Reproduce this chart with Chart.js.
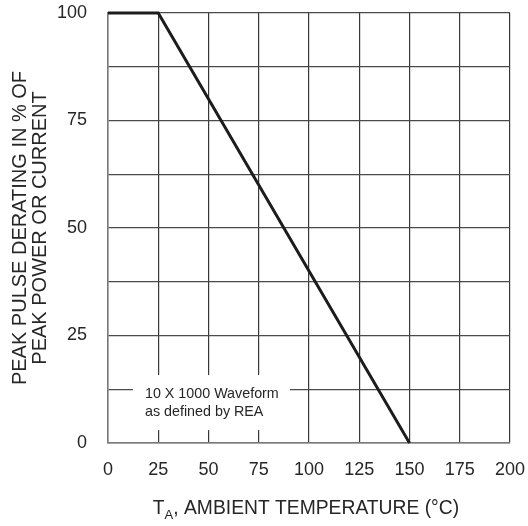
<!DOCTYPE html>
<html>
<head>
<meta charset="utf-8">
<script src="https://cdn.jsdelivr.net/npm/chart.js@4"></script>
<style>
  html, body { margin: 0; padding: 0; background: #fff; }
  #wrap { width: 528px; height: 526px; }
</style>
</head>
<body>
<div id="wrap"><canvas id="deratingChart"></canvas></div>
<script>
// curve
const ambientTemp = [0, 25, 150];
const deratingPct = [100, 100, 0];

// axis settings
const xTicks = [0, 25, 50, 75, 100, 125, 150, 175, 200];
const yLabelled = [0, 25, 50, 75, 100];
const yTitle = ["PEAK PULSE DERATING IN % OF", "PEAK POWER OR CURRENT"];
const noteLines = ["10 X 1000 Waveform", "as defined by REA"];

const FONT = "'Liberation Sans', Arial, sans-serif";
const TEXT = "#262626";

// white box with the waveform note, drawn over the grid
const notePlugin = {
    id: "note",
    beforeDatasetsDraw(chart) {
        const ctx = chart.ctx;
        const x = chart.scales.x;
        const y = chart.scales.y;
        const left = x.getPixelForValue(12.4);
        const right = x.getPixelForValue(90.5);
        const top = y.getPixelForValue(15.8);
        const bottom = y.getPixelForValue(3.0);
        ctx.save();
        ctx.fillStyle = "#fff";
        ctx.fillRect(left, top, right - left, bottom - top);
        ctx.fillStyle = TEXT;
        ctx.font = "14.3px " + FONT;
        ctx.textAlign = "left";
        ctx.textBaseline = "middle";
        ctx.fillText(noteLines[0], x.getPixelForValue(18.4), y.getPixelForValue(11.4));
        ctx.fillText(noteLines[1], x.getPixelForValue(18.4), y.getPixelForValue(7.2));
        ctx.restore();
    }
};

// x title with a subscript A
const xTitlePlugin = {
    id: "xTitle",
    afterDraw(chart) {
        const ctx = chart.ctx;
        const area = chart.chartArea;
        const big = "19.3px " + FONT;
        const small = "13px " + FONT;
        const rest = ", AMBIENT TEMPERATURE (\u00B0C)";
        ctx.save();
        ctx.fillStyle = TEXT;
        ctx.textBaseline = "middle";
        ctx.textAlign = "left";
        ctx.font = big;
        const wT = ctx.measureText("T").width;
        const wRest = ctx.measureText(rest).width;
        ctx.font = small;
        const wA = ctx.measureText("A").width;
        const total = wT + wA + wRest;
        let cx = (area.left + area.right) / 2 - 3 - total / 2;
        const cy = chart.height - 17;
        ctx.font = big;
        ctx.fillText("T", cx, cy);
        cx += wT;
        ctx.font = small;
        ctx.fillText("A", cx, cy + 6);
        cx += wA;
        ctx.font = big;
        ctx.fillText(rest, cx, cy);
        ctx.restore();
    }
};

const ctx = document.getElementById("deratingChart").getContext("2d");

new Chart(ctx, {
    type: "line",
    data: {
        datasets: [{
            label: "Derating",
            data: ambientTemp.map((t, i) => ({ x: t, y: deratingPct[i] })),
            borderColor: "#1c1c1c",
            borderWidth: 3,
            pointRadius: 0,
            fill: false,
            tension: 0,
            clip: false
        }]
    },
    options: {
        responsive: true,
        maintainAspectRatio: false,
        animation: false,
        layout: {
            padding: { left: 0, top: 13, right: 18, bottom: 0 }
        },
        plugins: {
            legend: { display: false },
            tooltip: { enabled: false }
        },
        scales: {
            x: {
                type: "linear",
                min: 0,
                max: 200,
                afterFit(scale) {
                    scale.height = 83;
                    scale.paddingLeft = 0;
                    scale.paddingRight = 0;
                },
                afterBuildTicks(scale) { scale.ticks = xTicks.map(v => ({ value: v })); },
                ticks: {
                    padding: 16,
                    color: TEXT,
                    font: { family: FONT, size: 18 },
                    maxRotation: 0
                },
                grid: { color: "#383838", lineWidth: 1.2, drawTicks: false },
                border: { color: "#7a7a7a", width: 1.5 }
            },
            y: {
                min: 0,
                max: 100,
                afterFit(scale) {
                    scale.width = 108;
                    scale.paddingTop = 0;
                    scale.paddingBottom = 0;
                },
                ticks: {
                    stepSize: 12.5,
                    padding: 21,
                    color: TEXT,
                    font: { family: FONT, size: 18 },
                    callback: v => (yLabelled.includes(v) ? String(v) : "")
                },
                grid: { color: "#4a4a4a", lineWidth: 1.2, drawTicks: false },
                border: { color: "#7a7a7a", width: 1.5 },
                title: {
                    display: true,
                    text: yTitle,
                    color: TEXT,
                    font: { family: FONT, size: 20, lineHeight: 1 },
                    padding: { top: 10, bottom: 0 }
                }
            }
        }
    },
    plugins: [notePlugin, xTitlePlugin]
});
</script>
</body>
</html>
